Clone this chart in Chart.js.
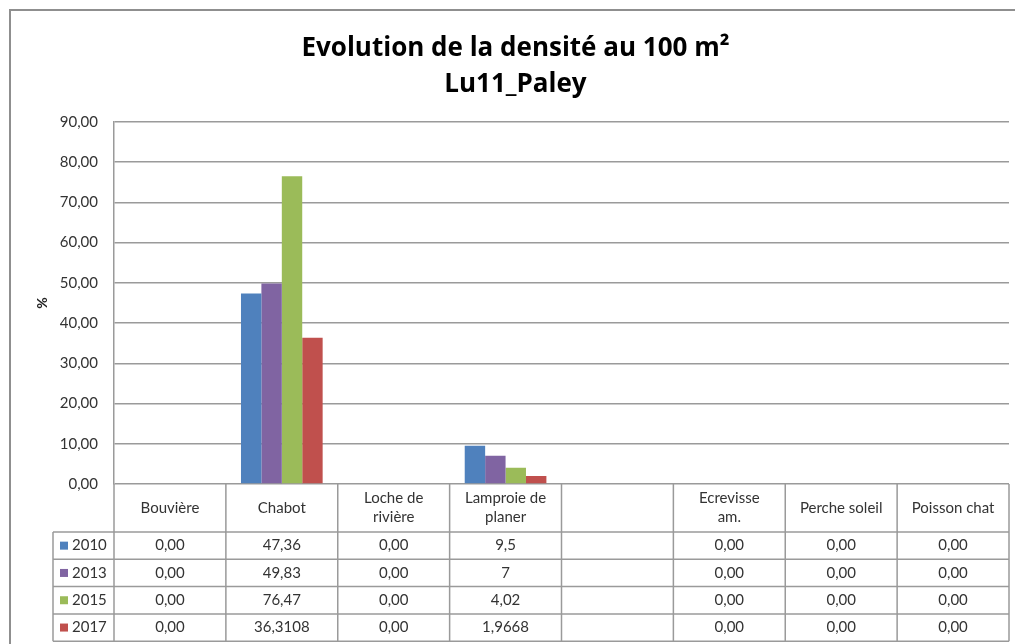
<!DOCTYPE html>
<html><head><meta charset="utf-8">
<script src="https://cdn.jsdelivr.net/npm/chart.js@4.4.0/dist/chart.umd.min.js"></script>
<style>html,body{margin:0;padding:0;background:#fff;overflow:hidden;} #wrap{width:1015px;height:644px;position:relative;}</style>
</head><body><div id="wrap"><canvas id="c" width="1015" height="644"></canvas></div>
<script>
// ---- data ----
const titleLines = ["Evolution de la densité au 100 m²", "Lu11_Paley"];
const yAxisTitle = "%";
const categories = [["Bouvière"], ["Chabot"], ["Loche de", "rivière"], ["Lamproie de", "planer"], [], ["Ecrevisse", "am."], ["Perche soleil"], ["Poisson chat"]];
const years = ["2010", "2013", "2015", "2017"];
const v2010 = [0, 47.36, 0, 9.5, null, 0, 0, 0];
const v2013 = [0, 49.83, 0, 7, null, 0, 0, 0];
const v2015 = [0, 76.47, 0, 4.02, null, 0, 0, 0];
const v2017 = [0, 36.3108, 0, 1.9668, null, 0, 0, 0];
const yTicks = [0, 10, 20, 30, 40, 50, 60, 70, 80, 90];
const colors = ["#4F81BD", "#8064A2", "#9BBB59", "#C0504D"];
const seriesValues = [v2010, v2013, v2015, v2017];

const fmtTick = v => v.toFixed(2).replace('.', ',');
const fmtCell = v => v === null ? "" : (v === 0 ? "0,00" : String(v).replace('.', ','));

const FONT = "Lato";

const tablePlugin = {
  id: 'dataTable',
  afterDraw(chart) {
    const ctx = chart.ctx, a = chart.chartArea;
    const n = categories.length, w = (a.right - a.left) / n;
    const hdrTop = a.bottom, hdrBot = a.bottom + 48, rowH = 27.3;
    const legL = 53;
    ctx.save();
    // outer chart border
    ctx.strokeStyle = '#8f8f8f'; ctx.lineWidth = 2;
    ctx.beginPath(); ctx.moveTo(10, 650); ctx.lineTo(10, 10); ctx.lineTo(1020, 10); ctx.stroke();
    // table grid
    ctx.strokeStyle = '#9a9a9a'; ctx.lineWidth = 1.5;
    ctx.beginPath();
    for (let i = 0; i <= n; i++) {
      const x = a.left + i * w;
      ctx.moveTo(x, hdrTop); ctx.lineTo(x, hdrBot + 4 * rowH);
    }
    for (let r = 0; r <= 4; r++) {
      const y = hdrBot + r * rowH;
      ctx.moveTo(legL, y); ctx.lineTo(a.right, y);
    }
    ctx.moveTo(legL, hdrBot); ctx.lineTo(legL, hdrBot + 4 * rowH);
    ctx.stroke();
    // header text
    ctx.fillStyle = '#333';
    ctx.font = '15px ' + FONT;
    ctx.textAlign = 'center'; ctx.textBaseline = 'middle';
    const hc = (hdrTop + hdrBot) / 2;
    categories.forEach((lines, i) => {
      const cx = a.left + (i + 0.5) * w;
      const lh = 19;
      lines.forEach((t, k) => {
        ctx.fillText(t, cx, hc + (k - (lines.length - 1) / 2) * lh);
      });
    });
    // rows
    seriesValues.forEach((vals, r) => {
      const cy = hdrBot + r * rowH + rowH / 2;
      vals.forEach((v, i) => {
        const cx = a.left + (i + 0.5) * w;
        ctx.textAlign = 'center';
        ctx.fillText(fmtCell(v), cx, cy);
      });
      ctx.fillStyle = colors[r];
      ctx.fillRect(60, cy - 4, 8, 8);
      ctx.fillStyle = '#333';
      ctx.textAlign = 'left';
      ctx.fillText(years[r], 72, cy);
    });
    // y axis title
    ctx.save();
    ctx.translate(42, (a.top + a.bottom) / 2);
    ctx.rotate(-Math.PI / 2);
    ctx.font = 'bold 14px ' + FONT;
    ctx.textAlign = 'center'; ctx.textBaseline = 'middle';
    ctx.fillStyle = '#222';
    ctx.fillText(yAxisTitle, 0, 0);
    ctx.restore();
    ctx.restore();
  }
};

new Chart(document.getElementById('c'), {
  type: 'bar',
  data: {
    labels: categories.map(c => c.join(' ')),
    datasets: years.map((y, i) => ({
      label: y,
      data: seriesValues[i],
      backgroundColor: colors[i],
      borderWidth: 0,
      categoryPercentage: 0.73,
      barPercentage: 1
    }))
  },
  options: {
    responsive: false,
    animation: false,
    devicePixelRatio: 1,
    layout: { padding: { left: 22, right: 6, top: 0, bottom: 160 } },
    plugins: {
      legend: { display: false },
      tooltip: { enabled: false },
      title: {
        display: true,
        text: titleLines,
        color: '#000',
        font: { family: 'Open Sans', size: 26, weight: 'bold', lineHeight: 1.4 },
        padding: { top: 30, bottom: 19 }
      }
    },
    scales: {
      x: { display: false },
      y: {
        min: 0, max: 90,
        afterBuildTicks(s) { s.ticks = yTicks.map(v => ({ value: v })); },
        afterFit(s) { s.width = 92; },
        ticks: { padding: 16, color: '#333', font: { family: FONT, size: 15 }, callback: v => fmtTick(v) },
        grid: { color: '#9a9a9a', lineWidth: 1.5, drawTicks: false },
        border: { color: '#9a9a9a', width: 1.5 }
      }
    }
  },
  plugins: [tablePlugin]
});
</script>
</body></html>
